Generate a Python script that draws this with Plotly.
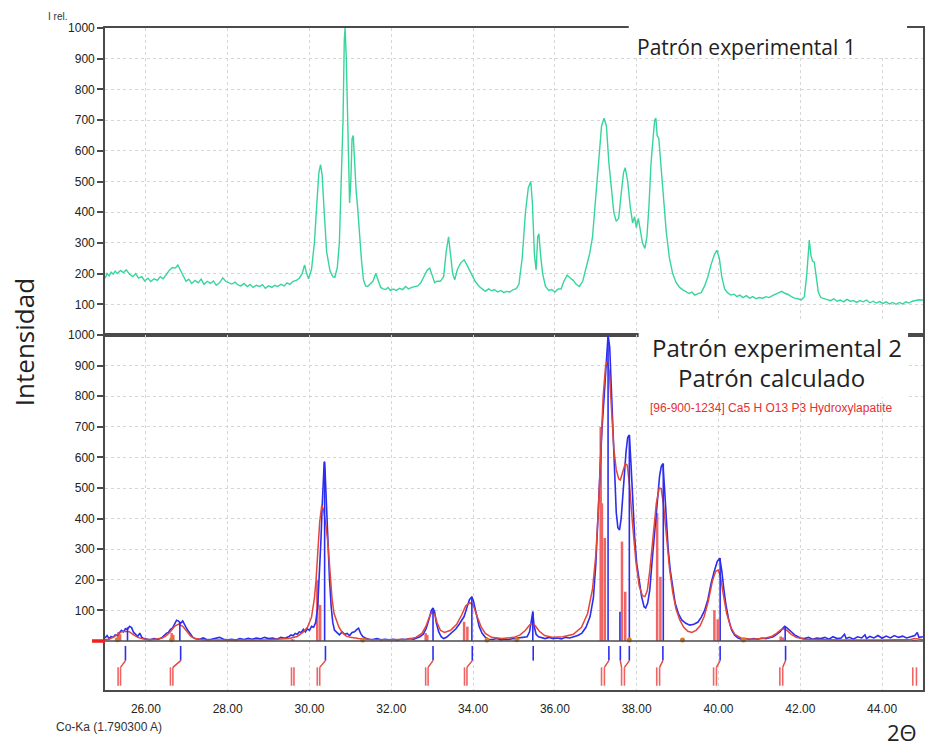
import plotly.graph_objects as go

# ---------------- data ----------------
# Top panel: experimental pattern 1 (2theta, I rel.)
exp1_x = [25.00,25.05,25.10,25.15,25.20,25.25,25.30,25.38,25.45,25.52,25.60,25.68,25.75,25.82,25.90,25.97,
          26.05,26.12,26.20,26.28,26.35,26.42,26.50,26.58,26.65,26.72,26.78,26.85,26.92,26.98,27.05,27.12,
          27.20,27.28,27.35,27.42,27.50,27.58,27.65,27.72,27.80,27.88,27.95,28.02,28.10,28.18,28.25,28.32,
          28.40,28.48,28.55,28.62,28.70,28.78,28.85,28.92,29.00,29.08,29.15,29.22,29.30,29.38,29.45,29.52,
          29.60,29.68,29.75,29.82,29.88,29.93,29.98,30.05,30.12,30.18,30.23,30.27,30.31,30.36,30.42,30.50,
          30.57,30.62,30.68,30.73,30.78,30.82,30.85,30.87,30.90,30.94,30.98,31.01,31.04,31.07,31.10,31.14,
          31.18,31.22,31.27,31.32,31.37,31.42,31.48,31.55,31.62,31.68,31.74,31.80,31.86,31.92,31.98,32.05,
          32.12,32.20,32.28,32.35,32.42,32.50,32.58,32.65,32.72,32.80,32.88,32.94,33.00,33.06,33.12,33.20,
          33.28,33.34,33.40,33.45,33.50,33.55,33.62,33.70,33.78,33.86,33.95,34.05,34.15,34.22,34.30,34.38,
          34.45,34.52,34.60,34.68,34.75,34.82,34.90,34.98,35.05,35.12,35.20,35.28,35.35,35.41,35.45,35.50,
          35.54,35.58,35.61,35.65,35.70,35.77,35.85,35.92,36.00,36.08,36.15,36.22,36.30,36.38,36.45,36.52,
          36.60,36.68,36.75,36.85,36.92,37.00,37.08,37.14,37.20,37.26,37.32,37.38,37.44,37.50,37.56,37.62,
          37.68,37.72,37.78,37.84,37.90,37.95,37.99,38.04,38.08,38.14,38.20,38.25,38.30,38.35,38.40,38.44,
          38.47,38.50,38.54,38.60,38.66,38.72,38.80,38.88,38.96,39.05,39.12,39.20,39.28,39.35,39.42,39.50,
          39.58,39.66,39.74,39.82,39.90,39.96,40.02,40.08,40.15,40.22,40.30,40.38,40.45,40.52,40.60,40.68,
          40.76,40.84,40.92,41.00,41.08,41.16,41.24,41.32,41.40,41.48,41.55,41.62,41.70,41.78,41.86,41.94,
          42.02,42.10,42.16,42.22,42.26,42.30,42.34,42.38,42.44,42.50,42.58,42.66,42.74,42.82,42.90,42.98,
          43.06,43.14,43.22,43.30,43.38,43.46,43.54,43.62,43.70,43.78,43.86,43.94,44.02,44.10,44.18,44.26,
          44.34,44.42,44.50,44.58,44.66,44.74,44.82,44.90,44.97,45.00]
exp1_y = [185,200,193,205,198,208,200,210,203,212,198,190,200,185,190,176,
          185,174,183,178,190,183,197,212,220,218,228,210,195,175,182,168,
          178,170,182,165,175,168,176,162,170,186,175,170,166,172,163,160,
          168,158,165,155,162,158,164,152,160,155,162,158,165,160,170,165,
          175,178,185,200,228,200,183,215,300,430,530,555,520,400,270,210,
          190,188,220,300,500,700,960,1000,900,620,430,500,640,650,560,470,
          410,330,245,180,160,158,165,175,200,175,155,150,148,155,145,150,
          145,152,148,158,150,155,158,160,170,190,212,218,195,170,175,175,
          190,270,320,260,200,180,215,235,245,225,200,175,158,150,142,150,
          144,148,140,145,138,142,140,148,150,165,250,400,480,500,430,260,
          212,320,330,260,200,158,145,148,140,150,150,175,195,185,178,165,
          158,175,210,265,320,450,590,680,706,680,560,470,400,370,380,460,
          530,545,500,420,365,385,350,380,345,300,282,320,420,560,640,700,
          706,650,640,540,420,340,250,200,172,155,148,142,135,140,130,135,
          138,160,190,230,262,276,250,190,150,138,130,133,125,130,122,128,
          120,125,118,122,120,125,122,128,132,138,142,136,132,125,120,118,
          114,125,200,309,260,240,238,200,140,122,118,115,112,118,110,114,
          108,116,110,112,106,112,108,114,105,110,104,109,103,108,101,106,
          100,106,101,108,104,110,112,115,114,113]

# Bottom panel: experimental pattern 2 (blue)
exp2_x = [25.00,25.05,25.10,25.15,25.20,25.25,25.30,25.35,25.40,25.45,25.50,25.55,25.60,25.65,25.70,25.75,
          25.80,25.85,25.90,25.95,26.00,26.10,26.20,26.30,26.40,26.45,26.50,26.55,26.60,26.65,26.70,26.75,
          26.80,26.85,26.90,26.95,27.00,27.05,27.10,27.15,27.20,27.30,27.40,27.50,27.60,27.70,27.80,27.90,
          28.00,28.10,28.20,28.30,28.40,28.50,28.60,28.70,28.80,28.90,29.00,29.10,29.20,29.30,29.40,29.50,
          29.55,29.60,29.65,29.70,29.75,29.80,29.85,29.90,29.95,30.00,30.05,30.10,30.15,30.20,30.24,30.28,
          30.31,30.33,30.36,30.38,30.41,30.45,30.49,30.53,30.57,30.61,30.66,30.73,30.80,30.86,30.92,30.98,
          31.04,31.10,31.16,31.20,31.25,31.30,31.36,31.45,31.55,31.65,31.75,31.85,31.95,32.05,32.15,32.25,
          32.35,32.45,32.55,32.62,32.70,32.78,32.85,32.92,32.98,33.02,33.06,33.10,33.16,33.22,33.28,33.35,
          33.42,33.50,33.58,33.66,33.73,33.78,33.85,33.91,33.97,34.01,34.06,34.10,34.15,34.22,34.30,34.38,
          34.48,34.58,34.68,34.78,34.88,34.98,35.08,35.18,35.26,35.32,35.38,35.43,35.46,35.49,35.54,35.60,
          35.68,35.76,35.86,35.96,36.06,36.16,36.26,36.36,36.46,36.56,36.66,36.76,36.86,36.94,37.00,37.05,
          37.10,37.15,37.20,37.25,37.30,37.34,37.38,37.42,37.46,37.50,37.54,37.58,37.62,37.66,37.70,37.74,
          37.78,37.82,37.86,37.90,37.95,38.00,38.06,38.12,38.18,38.22,38.27,38.32,38.37,38.42,38.47,38.52,
          38.56,38.60,38.64,38.68,38.72,38.77,38.82,38.88,38.94,39.02,39.10,39.20,39.30,39.40,39.50,39.58,
          39.66,39.74,39.82,39.90,39.97,40.03,40.08,40.13,40.18,40.25,40.32,40.40,40.48,40.56,40.66,40.76,
          40.86,40.96,41.06,41.16,41.26,41.34,41.42,41.50,41.56,41.62,41.68,41.74,41.80,41.86,41.92,42.00,
          42.10,42.20,42.30,42.40,42.50,42.60,42.70,42.80,42.90,43.00,43.08,43.12,43.20,43.30,43.40,43.50,
          43.58,43.62,43.70,43.80,43.90,44.00,44.10,44.20,44.30,44.40,44.50,44.60,44.70,44.80,44.86,44.90,
          45.00]
exp2_y = [10,18,8,15,12,20,18,28,35,30,40,38,48,44,28,22,
          15,26,12,8,6,4,8,5,12,20,25,28,38,42,55,68,
          65,58,66,50,40,30,20,12,8,5,10,4,6,8,12,6,
          4,6,3,8,5,9,6,10,7,12,8,10,6,12,9,15,
          20,17,25,22,30,28,38,30,40,35,48,45,60,110,200,330,
          440,500,586,560,450,330,200,112,60,36,28,20,30,22,25,18,
          28,30,38,42,25,15,10,6,5,8,4,6,4,6,3,6,
          5,8,6,10,14,22,40,70,100,108,95,60,30,14,8,12,
          20,28,40,55,70,80,110,135,145,130,100,80,47,25,12,6,
          5,8,4,6,5,8,10,10,12,14,30,70,96,50,22,14,
          10,8,12,8,10,7,12,10,14,18,26,45,80,140,250,400,
          560,690,790,908,1000,960,820,650,520,420,370,363,400,470,560,620,
          665,673,580,470,340,254,190,145,112,108,125,167,250,330,420,500,
          540,570,580,500,400,300,232,170,124,90,69,58,52,55,62,78,
          100,135,189,230,260,271,230,170,120,70,36,18,10,6,8,5,
          8,6,10,8,12,14,22,30,40,48,42,36,28,20,15,10,
          8,12,6,10,8,12,6,14,8,10,22,8,12,6,14,10,
          20,8,15,10,18,9,16,10,18,12,16,10,14,18,28,12,
          14]

# Bottom panel: calculated pattern (red)
calc_x = [25.00,25.10,25.20,25.30,25.40,25.50,25.60,25.70,25.80,25.90,26.00,26.20,26.40,26.50,26.60,26.70,
          26.80,26.90,27.00,27.10,27.20,27.40,28.00,29.00,29.50,29.70,29.85,29.95,30.05,30.12,30.16,30.20,
          30.25,30.30,30.34,30.40,30.45,30.50,30.55,30.60,30.65,30.72,30.80,30.90,31.00,31.20,31.50,32.00,
          32.40,32.60,32.75,32.85,32.95,33.00,33.06,33.12,33.20,33.30,33.45,33.60,33.72,33.82,33.92,34.00,
          34.10,34.20,34.30,34.45,34.70,35.00,35.15,35.28,35.38,35.45,35.52,35.62,35.75,35.95,36.20,36.45,
          36.65,36.80,36.92,37.00,37.06,37.12,37.18,37.24,37.28,37.33,37.38,37.44,37.50,37.56,37.60,37.66,
          37.72,37.77,37.83,37.90,37.98,38.06,38.14,38.20,38.26,38.32,38.40,38.48,38.55,38.60,38.66,38.72,
          38.80,38.88,38.96,39.05,39.15,39.25,39.35,39.45,39.55,39.65,39.75,39.85,39.93,39.99,40.05,40.12,
          40.20,40.30,40.40,40.55,40.80,41.10,41.30,41.42,41.52,41.60,41.68,41.78,41.90,42.10,42.50,43.00,
          44.00,44.70,44.80,44.90,45.00]
calc_y = [5,6,12,22,30,32,30,20,12,8,5,5,10,18,30,48,
          55,48,30,15,8,4,3,4,8,15,30,45,78,140,199,280,
          390,444,430,380,320,230,140,90,69,45,28,16,12,8,5,4,
          6,12,25,50,85,95,88,60,35,28,35,55,85,115,125,118,
          80,45,25,12,8,12,20,35,52,58,50,32,18,12,14,22,
          45,90,170,280,420,620,800,900,913,880,760,630,560,530,526,555,
          580,575,500,380,260,180,148,145,165,230,340,450,500,498,440,350,
          240,160,105,70,45,32,28,35,50,80,130,195,228,232,210,150,
          90,45,22,10,6,8,15,25,36,40,34,22,12,6,4,3,
          3,5,8,5,4]

# Reference lines (Hydroxylapatite), position and relative intensity
ref_x = [25.33,25.37,26.63,26.67,29.57,29.61,30.19,30.26,32.84,32.88,33.78,33.86,
         37.12,37.15,37.22,37.64,37.72,38.50,38.58,39.90,39.98,41.52,41.57,44.76,44.82]
ref_h = [29,22,26,20,6,5,199,118,26,20,63,47,
         700,450,337,325,161,418,210,101,71,15,12,3,3]

# Peaks found in experimental pattern 2
peak_x = [25.55,26.83,30.37,33.02,33.97,35.46,37.30,37.59,37.82,38.65,40.04,41.63]
peak_h = [45,62,586,108,145,96,1000,96,673,580,271,47]

# Match markers below the baseline: observed position -> reference pair
match_obs = [25.50,26.85,30.39,33.02,33.98,37.32,37.60,37.82,38.64,40.04,41.64]
match_ref = [25.38,26.66,30.25,32.90,33.85,37.21,37.63,37.70,38.56,39.95,41.57]
mark_ref_x = [25.32,25.38,26.60,26.66,29.56,29.62,30.19,30.25,32.84,32.90,33.79,33.85,
              37.14,37.21,37.63,37.70,38.49,38.56,39.88,39.95,41.50,41.57,44.75,44.84]
mark_obs_x = [25.50,26.85,30.39,33.02,33.98,35.47,37.32,37.60,37.82,38.64,40.04,41.64]

# Background points (orange dots)
bg_x = [25.30,26.63,31.30,34.34,35.07,37.82,39.12,40.61]
bg_y = [4,4,3,3,4,3,3,3]

x_ticks = [26, 28, 30, 32, 34, 36, 38, 40, 42, 44]
y_ticks = [100, 200, 300, 400, 500, 600, 700, 800, 900, 1000]

# ---------------- helpers ----------------
def sticks(xs, y0s, y1s):
    X, Y = [], []
    for x, a, b in zip(xs, y0s, y1s):
        X += [x, x, None]
        Y += [a, b, None]
    return X, Y

GREEN = "#36d69a"
BLUE = "#2d2df0"
RED = "#e2463a"
RED_STICK = "#f06464"
AX = "#4a4a4a"
GRID = "#d6d6d6"

fig = go.Figure()

fig.add_trace(go.Scatter(x=exp1_x, y=exp1_y, mode="lines", line=dict(color=GREEN, width=1.4),
                         xaxis="x", yaxis="y", showlegend=False))

rx, ry = sticks(ref_x, [0] * len(ref_x), ref_h)
fig.add_trace(go.Scatter(x=rx, y=ry, mode="lines", line=dict(color=RED_STICK, width=2.5),
                         xaxis="x2", yaxis="y2", showlegend=False))

fig.add_trace(go.Scatter(x=exp2_x, y=exp2_y, mode="lines", line=dict(color=BLUE, width=1.6),
                         xaxis="x2", yaxis="y2", showlegend=False))
fig.add_trace(go.Scatter(x=calc_x, y=calc_y, mode="lines", line=dict(color=RED, width=1.5),
                         xaxis="x2", yaxis="y2", showlegend=False))

px_, py_ = sticks(peak_x, [0] * len(peak_x), peak_h)
fig.add_trace(go.Scatter(x=px_, y=py_, mode="lines", line=dict(color=BLUE, width=1.6),
                         xaxis="x2", yaxis="y2", showlegend=False))

fig.add_trace(go.Scatter(x=bg_x, y=bg_y, mode="markers", marker=dict(color="#e07a1c", size=5),
                         xaxis="x2", yaxis="y2", showlegend=False))

# markers below the baseline
OB_TOP, OB_BOT, RF_TOP, RF_BOT = -16, -64, -86, -146
ox, oy = sticks(mark_obs_x, [OB_TOP] * len(mark_obs_x), [OB_BOT] * len(mark_obs_x))
fig.add_trace(go.Scatter(x=ox, y=oy, mode="lines", line=dict(color=BLUE, width=1.6),
                         xaxis="x2", yaxis="y2", showlegend=False))
kx, ky = sticks(mark_ref_x, [RF_TOP] * len(mark_ref_x), [RF_BOT] * len(mark_ref_x))
fig.add_trace(go.Scatter(x=kx, y=ky, mode="lines", line=dict(color=RED_STICK, width=1.6),
                         xaxis="x2", yaxis="y2", showlegend=False))
cx, cy = [], []
for a, b in zip(match_obs, match_ref):
    cx += [a, b, None]
    cy += [OB_BOT, RF_TOP, None]
fig.add_trace(go.Scatter(x=cx, y=cy, mode="lines", line=dict(color=RED, width=1.4),
                         xaxis="x2", yaxis="y2", showlegend=False))

# ---------------- layout ----------------
W, H = 931, 751
L, R, T, B = 105, 6, 28, 61
pw, ph = W - L - R, H - T - B

def fx(p):
    return (p - L) / pw

def fy(p):
    return (H - B - p) / ph

split = fy(335)

axis_common = dict(showline=True, linecolor=AX, linewidth=1.6, mirror=True,
                   showgrid=True, gridcolor=GRID, griddash="dot", gridwidth=1,
                   zeroline=False)
tickfont = dict(family="Liberation Sans, Arial", size=12, color="#222222")

fig.update_layout(
    width=W, height=H,
    margin=dict(l=L, r=R, t=T, b=B),
    paper_bgcolor="white", plot_bgcolor="white",
    xaxis=dict(domain=[0, 1], range=[25, 45], anchor="y", tickvals=x_ticks,
               showticklabels=False, ticks="", **axis_common),
    yaxis=dict(domain=[split, 1], range=[0, 1000], anchor="x", tickvals=y_ticks,
               ticks="outside", ticklen=6, tickcolor=AX, tickwidth=1.6,
               tickfont=tickfont, **axis_common),
    xaxis2=dict(domain=[0, 1], range=[25, 45], anchor="y2", tickvals=x_ticks,
                tickformat=".2f", ticks="", ticklabelstandoff=7, tickfont=tickfont, **axis_common),
    yaxis2=dict(domain=[0, split], range=[-160, 1000], anchor="x2", tickvals=y_ticks,
                ticks="outside", ticklen=6, tickcolor=AX, tickwidth=1.6,
                tickfont=tickfont, **axis_common),
)

shapes = [
    # baseline of bottom panel
    dict(type="line", xref="x2", yref="y2", x0=25, x1=45, y0=0, y1=0,
         line=dict(color=AX, width=1.5), layer="above"),
    # red marker at left of baseline
    dict(type="line", xref="paper", yref="paper", x0=fx(92), x1=fx(105), y0=fy(641), y1=fy(641),
         line=dict(color="#ee2020", width=3.5), layer="above"),
    # white boxes behind titles
    dict(type="rect", xref="paper", yref="paper", x0=fx(630), x1=fx(909), y0=fy(56), y1=fy(15),
         fillcolor="white", line=dict(width=0), layer="above"),
    dict(type="rect", xref="paper", yref="paper", x0=fx(640), x1=fx(910), y0=fy(397), y1=fy(322),
         fillcolor="white", line=dict(width=0), layer="above"),
]
fig.update_layout(shapes=shapes)

big = "Open Sans, Noto Sans, sans-serif"
annotations = [
    dict(text="I rel.", x=fx(57), y=fy(17), font=dict(family="Liberation Sans, Arial", size=10, color="#333")),
    dict(text="Intensidad", x=fx(24), y=fy(342), textangle=-90,
         font=dict(family=big, size=26, color="#222")),
    dict(text="2Θ", x=fx(904), y=fy(732), font=dict(family=big, size=22, color="#222")),
    dict(text="Co-Ka (1.790300 A)", x=fx(54), y=fy(727), xanchor="left",
         font=dict(family="Liberation Sans, Arial", size=12, color="#333")),
    dict(text="Patrón experimental 1", x=fx(748), y=fy(47), font=dict(family=big, size=21, color="#222")),
    dict(text="Patrón experimental 2", x=fx(779), y=fy(347), font=dict(family=big, size=24, color="#222")),
    dict(text="Patrón calculado", x=fx(773), y=fy(378), font=dict(family=big, size=24, color="#222")),
    dict(text="[96-900-1234] Ca5 H O13 P3 Hydroxylapatite", x=fx(773), y=fy(408),
         font=dict(family="Liberation Sans, Arial", size=12, color="#e83030")),
]
for a in annotations:
    a.update(xref="paper", yref="paper", showarrow=False)
    a.setdefault("xanchor", "center")
    a.setdefault("yanchor", "middle")
fig.update_layout(annotations=annotations)

fig.write_html("out.html")
